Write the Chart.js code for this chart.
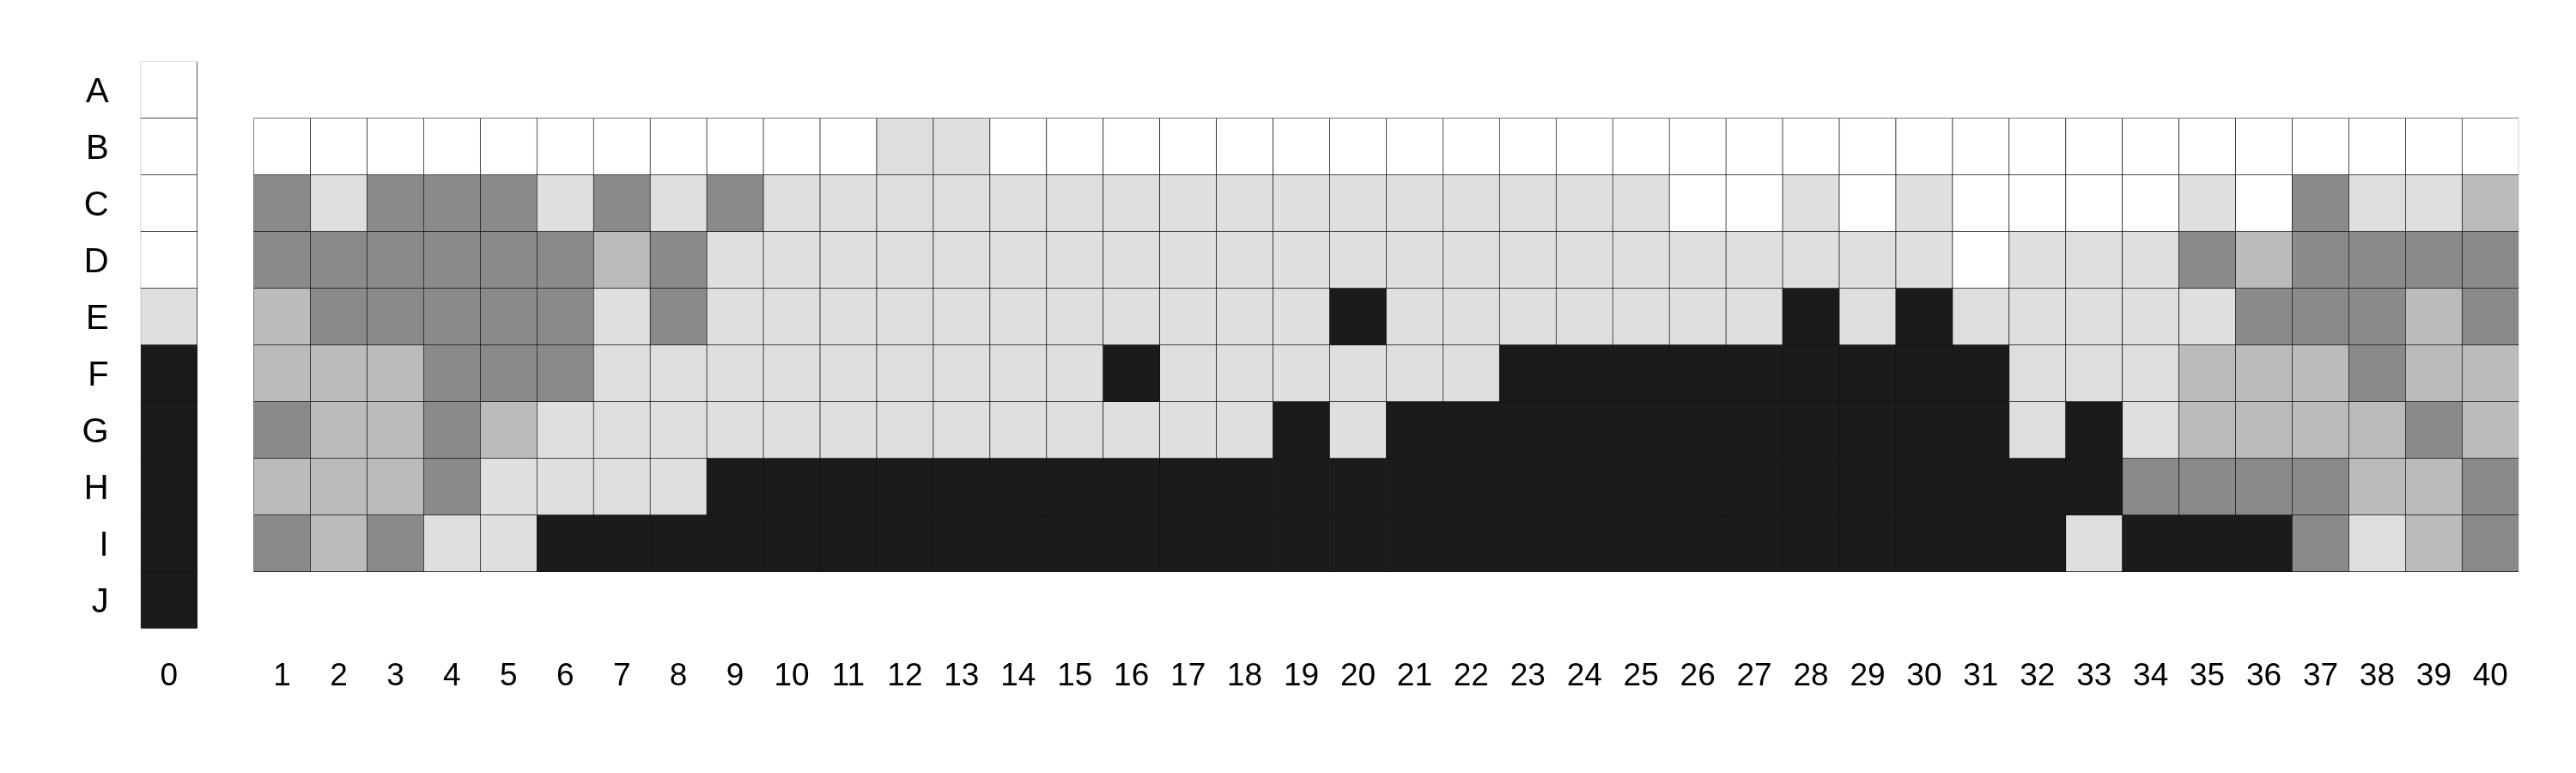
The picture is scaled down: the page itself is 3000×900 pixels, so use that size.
<!DOCTYPE html>
<html>
<head>
<meta charset="utf-8">
<script src="https://cdn.jsdelivr.net/npm/chart.js@4.4.1/dist/chart.umd.min.js"></script>
<style>
  body { margin: 0; background: #fff; }
  canvas { display: block; }
</style>
</head>
<body>
<canvas id="gridChart" width="3000" height="900"></canvas>
<script>
// Row and column labels
const rowLabels = ['A', 'B', 'C', 'D', 'E', 'F', 'G', 'H', 'I', 'J'];
const colLabels = ['0', '1', '2', '3', '4', '5', '6', '7', '8', '9', '10',
    '11', '12', '13', '14', '15', '16', '17', '18', '19', '20',
    '21', '22', '23', '24', '25', '26', '27', '28', '29', '30',
    '31', '32', '33', '34', '35', '36', '37', '38', '39', '40'];

// Shade levels: 0 white, 1 light, 2 mid, 3 dark, 4 black
const shades = ['#ffffff', '#dfdfdf', '#bbbbbb', '#8a8a8a', '#1b1b1b'];

// Column 0 runs A..J
const column0 = [0, 0, 0, 0, 1, 4, 4, 4, 4, 4];

// Columns 1..40, rows B..I
const rowB = [0, 0, 0, 0, 0, 0, 0, 0, 0, 0, 0, 1, 1, 0, 0, 0, 0, 0, 0, 0, 0, 0, 0, 0, 0, 0, 0, 0, 0, 0, 0, 0, 0, 0, 0, 0, 0, 0, 0, 0];
const rowC = [3, 1, 3, 3, 3, 1, 3, 1, 3, 1, 1, 1, 1, 1, 1, 1, 1, 1, 1, 1, 1, 1, 1, 1, 1, 0, 0, 1, 0, 1, 0, 0, 0, 0, 1, 0, 3, 1, 1, 2];
const rowD = [3, 3, 3, 3, 3, 3, 2, 3, 1, 1, 1, 1, 1, 1, 1, 1, 1, 1, 1, 1, 1, 1, 1, 1, 1, 1, 1, 1, 1, 1, 0, 1, 1, 1, 3, 2, 3, 3, 3, 3];
const rowE = [2, 3, 3, 3, 3, 3, 1, 3, 1, 1, 1, 1, 1, 1, 1, 1, 1, 1, 1, 4, 1, 1, 1, 1, 1, 1, 1, 4, 1, 4, 1, 1, 1, 1, 1, 3, 3, 3, 2, 3];
const rowF = [2, 2, 2, 3, 3, 3, 1, 1, 1, 1, 1, 1, 1, 1, 1, 4, 1, 1, 1, 1, 1, 1, 4, 4, 4, 4, 4, 4, 4, 4, 4, 1, 1, 1, 2, 2, 2, 3, 2, 2];
const rowG = [3, 2, 2, 3, 2, 1, 1, 1, 1, 1, 1, 1, 1, 1, 1, 1, 1, 1, 4, 1, 4, 4, 4, 4, 4, 4, 4, 4, 4, 4, 4, 1, 4, 1, 2, 2, 2, 2, 3, 2];
const rowH = [2, 2, 2, 3, 1, 1, 1, 1, 4, 4, 4, 4, 4, 4, 4, 4, 4, 4, 4, 4, 4, 4, 4, 4, 4, 4, 4, 4, 4, 4, 4, 4, 4, 3, 3, 3, 3, 2, 2, 3];
const rowI = [3, 2, 3, 1, 1, 4, 4, 4, 4, 4, 4, 4, 4, 4, 4, 4, 4, 4, 4, 4, 4, 4, 4, 4, 4, 4, 4, 4, 4, 4, 4, 4, 1, 4, 4, 4, 3, 1, 2, 3];

const gridRows = ['B', 'C', 'D', 'E', 'F', 'G', 'H', 'I'];
const gridLevels = [rowB, rowC, rowD, rowE, rowF, rowG, rowH, rowI];

const fontFamily = '"Liberation Sans", Arial, sans-serif';

// x slots: column 0, an empty spacer slot, then columns 1..40
const xLabels = [colLabels[0], ''].concat(colLabels.slice(1));

// One floating-bar dataset per row, each cell spans [row, row + 1]
const datasets = rowLabels.map((row, r) => {
    const g = gridRows.indexOf(row);
    const rest = g >= 0 ? gridLevels[g] : colLabels.slice(1).map(() => null);
    const levels = [column0[r], null].concat(rest);
    return {
        label: row,
        data: levels.map(v => v === null ? null : [r, r + 1]),
        backgroundColor: levels.map(v => v === null ? 'rgba(0,0,0,0)' : shades[v]),
        borderColor: '#111',
        borderWidth: 0.7,
        borderSkipped: false,
        grouped: false,
        barPercentage: 1,
        categoryPercentage: 1,
        yAxisID: 'y'
    };
});

new Chart(document.getElementById('gridChart').getContext('2d'), {
    type: 'bar',
    data: {
        labels: xLabels,
        datasets: datasets
    },
    options: {
        responsive: false,
        animation: false,
        layout: {
            padding: { left: 93.7, right: 66.7, top: 71.7, bottom: 68.3 }
        },
        plugins: {
            legend: { display: false },
            tooltip: { enabled: false }
        },
        scales: {
            x: {
                type: 'category',
                offset: true,
                grid: { display: false, drawTicks: false },
                border: { display: false },
                ticks: {
                    padding: 34,
                    autoSkip: false,
                    maxRotation: 0,
                    color: '#000',
                    font: { family: fontFamily, size: 37 }
                },
                afterFit: (axis) => { axis.height = 100; }
            },
            y: {
                type: 'linear',
                min: 0,
                max: 10,
                reverse: true,
                display: false
            },
            rows: {
                type: 'category',
                axis: 'y',
                position: 'left',
                labels: rowLabels,
                offset: true,
                grid: { display: false, drawTicks: false },
                border: { display: false },
                ticks: {
                    padding: 37,
                    labelOffset: 3,
                    color: '#000',
                    font: { family: fontFamily, size: 40 }
                },
                afterFit: (axis) => { axis.width = 70; }
            }
        }
    }
});
</script>
</body>
</html>
